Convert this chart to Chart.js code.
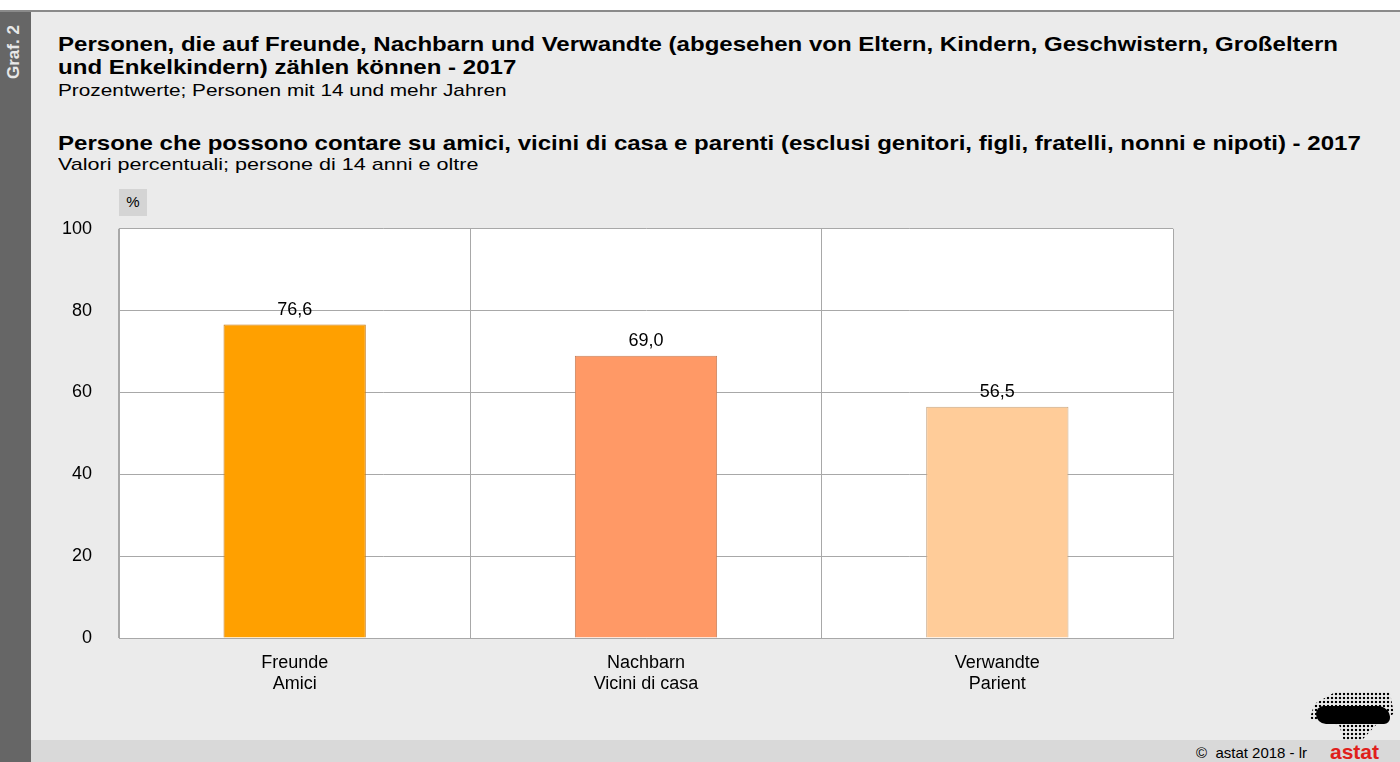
<!DOCTYPE html>
<html>
<head>
<meta charset="utf-8">
<script src="https://cdn.jsdelivr.net/npm/chart.js@4"></script>
<style>
  html, body { margin: 0; padding: 0; }
  body { width: 1400px; height: 762px; background: #fff; position: relative; overflow: hidden; font-family: "Liberation Sans", Arial, sans-serif; color: #000; }
  #frame { position: absolute; left: 0; top: 10px; width: 1400px; height: 752px; background: #ebebeb; border-top: 2px solid #8a8a8a; box-sizing: border-box; }
  #side { position: absolute; left: 0; top: 12px; width: 31px; height: 750px; background: #666; }
  #graf { position: absolute; left: 4px; top: 79px; transform-origin: 0 0; transform: rotate(-90deg); color: #e8e8e8; font-weight: bold; font-size: 17px; white-space: nowrap; }
  .t { position: absolute; left: 58px; white-space: nowrap; transform-origin: 0 0; }
  .b { font-weight: bold; font-size: 21px; transform: scaleX(1.145); }
  .s { font-size: 17px; }
  #pct { position: absolute; left: 119px; top: 189px; width: 28px; height: 27px; background: #d4d4d4; font-size: 15px; text-align: center; line-height: 25px; }
  #foot { position: absolute; left: 31px; top: 740px; width: 1369px; height: 22px; background: #d9d9d9; }
  #copy { position: absolute; left: 1196px; top: 744px; font-size: 15px; }
  #logo { position: absolute; left: 1330px; top: 742px; color: #e0201b; font-weight: bold; font-size: 21px; line-height: 20px; }
  #blob { position: absolute; left: 1310px; top: 692px; width: 84px; height: 48px;
    background-image: radial-gradient(circle, #000 1.3px, transparent 1.6px); background-size: 4px 4px;
    clip-path: polygon(30% 0, 95% 0, 100% 45%, 78% 70%, 62% 100%, 40% 100%, 35% 70%, 0 55%, 5% 25%); }
  #blob2 { position: absolute; left: 1316px; top: 706px; width: 74px; height: 18px; background: #000; border-radius: 8px 12px 6px 10px; }
  #wrap { position: absolute; left: 40px; top: 191px; width: 1140px; height: 517px; }
</style>
</head>
<body>
<div id="frame"></div>
<div id="side"></div>
<div id="graf">Graf. 2</div>
<div class="t b" style="top:32px">Personen, die auf Freunde, Nachbarn und Verwandte (abgesehen von Eltern, Kindern, Geschwistern, Großeltern</div>
<div class="t b" style="top:55px">und Enkelkindern) zählen können - 2017</div>
<div class="t s" style="top:81px" data-w="449">Prozentwerte; Personen mit 14 und mehr Jahren</div>
<div class="t b" style="top:131px">Persone che possono contare su amici, vicini di casa e parenti (esclusi genitori, figli, fratelli, nonni e nipoti) - 2017</div>
<div class="t s" style="top:155px" data-w="420">Valori percentuali; persone di 14 anni e oltre</div>
<div id="pct">%</div>
<div id="wrap"><canvas id="chart"></canvas></div>
<div id="foot"></div>
<div id="blob"></div>
<div id="blob2"></div>
<div id="copy">©&nbsp; astat 2018 - lr</div>
<div id="logo">astat</div>
<script>
const categories = [['Freunde', 'Amici'], ['Nachbarn', 'Vicini di casa'], ['Verwandte', 'Parient']]
const values = [76.6, 69.0, 56.5]
const barColors = ['#ffa000', '#ff9966', '#ffcc99']
const yTicks = [0, 20, 40, 60, 80, 100]

// stretch the subtitles to the width they have in the original
document.querySelectorAll('[data-w]').forEach(el => {
  el.style.transform = `scaleX(${el.dataset.w / el.offsetWidth})`
})

const plotBg = {
  id: 'plotBg',
  beforeDraw(chart) {
    const { ctx, chartArea: a } = chart
    ctx.save()
    ctx.fillStyle = '#fff'
    ctx.fillRect(a.left, a.top, a.right - a.left, a.bottom - a.top)
    ctx.restore()
  }
}

const valueLabels = {
  id: 'valueLabels',
  afterDatasetsDraw(chart) {
    const ctx = chart.ctx
    const meta = chart.getDatasetMeta(0)
    ctx.save()
    ctx.font = '18px "Liberation Sans", Arial, sans-serif'
    ctx.fillStyle = '#000'
    ctx.textAlign = 'center'
    ctx.textBaseline = 'alphabetic'
    meta.data.forEach((bar, i) => {
      ctx.fillText(values[i].toFixed(1).replace('.', ','), bar.x, bar.y - 10)
    })
    ctx.restore()
  }
}

const ctx = document.getElementById('chart')
new Chart(ctx, {
  type: 'bar',
  data: {
    labels: categories,
    datasets: [{
      data: values,
      backgroundColor: barColors,
      borderColor: ['#c47a1a', '#c8805a', '#c8a884'],
      borderWidth: 1,
      categoryPercentage: 1,
      barPercentage: 0.405
    }]
  },
  options: {
    responsive: true,
    maintainAspectRatio: false,
    animation: false,
    layout: { padding: { top: 20, right: 7 } },
    plugins: { legend: { display: false }, tooltip: { enabled: false } },
    scales: {
      x: {
        offset: true,
        grid: { offset: true, color: '#a8a8a8', drawTicks: false },
        border: { color: '#a8a8a8' },
        ticks: { color: '#000', font: { size: 18, family: '"Liberation Sans", Arial' }, padding: 14 },
        afterFit: (s) => { s.height = 70 }
      },
      y: {
        min: 0,
        max: 100,
        afterBuildTicks: (s) => { s.ticks = yTicks.map(v => ({ value: v })) },
        grid: { color: '#a8a8a8', drawTicks: false },
        border: { color: '#a8a8a8' },
        ticks: { color: '#000', font: { size: 18, family: '"Liberation Sans", Arial' }, padding: 27 },
        afterFit: (s) => { s.width = 79 }
      }
    }
  },
  plugins: [plotBg, valueLabels]
})
</script>
</body>
</html>
